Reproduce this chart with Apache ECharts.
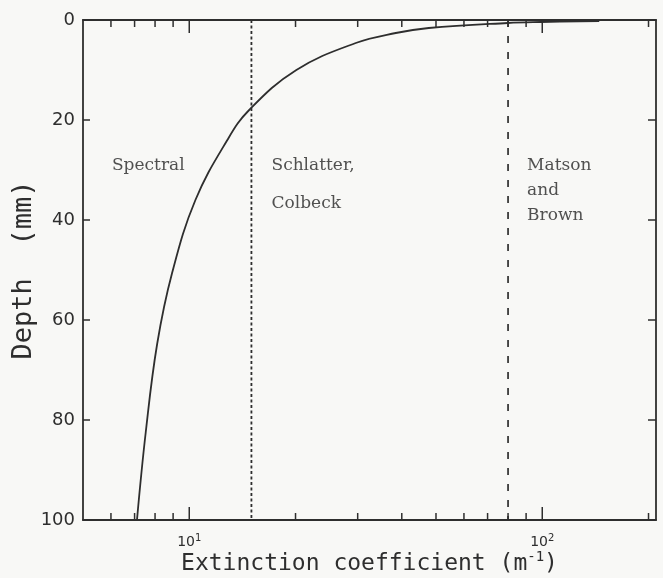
<!DOCTYPE html>
<html>
<head>
<meta charset="utf-8">
<script src="https://cdn.jsdelivr.net/npm/echarts@6/dist/echarts.min.js"></script>
<style>
html,body{margin:0;padding:0;background:#f8f8f6;}
#chart{width:663px;height:578px;}
</style>
</head>
<body>
<div id="chart"></div>
<script>
// ---- data ----
const curveExt   = [7.11, 7.53, 8.11, 8.94, 10.41, 12.82, 14.78, 20.11, 29.63, 38.46, 47.7, 79.85, 99.1, 145];
const curveDepth = [100, 82.4, 64.8, 50.6, 36.0, 24.0, 18.0, 10.0, 4.6, 2.6, 1.6, 0.6, 0.4, 0.2];
const boundaryDotted = 15;   // Spectral | Schlatter, Colbeck
const boundaryDashed = 80;   // Schlatter, Colbeck | Matson and Brown
const majorTicks = [10, 100];
const minorTicks = [6, 7, 8, 9, 20, 30, 40, 50, 60, 70, 80, 90, 200];
const annoText  = ['Spectral', 'Schlatter,', 'Colbeck', 'Matson', 'and', 'Brown'];
const annoExt   = [6.04, 17.1, 17.1, 90.6, 90.6, 90.6];
const annoDepth = [29.1, 29.1, 36.8, 29.1, 34.1, 39.1];

const ink = '#2e2e2e';
const xMin = 5, xMax = 210;

const chart = echarts.init(document.getElementById('chart'));
const tickData = majorTicks.map(v => [v, 1]).concat(minorTicks.map(v => [v, 0]));

const option = {
  backgroundColor: '#f8f8f6',
  animation: false,
  grid: {left: 83, right: 7, top: 20, bottom: 58, containLabel: false, outerBoundsMode: 'none'},
  xAxis: [{
    type: 'log', logBase: 10, min: xMin, max: xMax, position: 'bottom',
    axisLine: {onZero: false, lineStyle: {color: ink, width: 1.8}},
    axisTick: {show: false},
    splitLine: {show: false},
    axisLabel: {
      margin: 13, color: ink,
      showMinLabel: false, showMaxLabel: false,
      formatter: v => {
        const e = Math.round(Math.log10(v));
        if (Math.abs(Math.log10(v) - e) > 1e-6) return '';
        return '{b|10}{s|' + e + '}';
      },
      rich: {
        b: {fontFamily: 'DejaVu Sans', fontSize: 14, color: ink, lineHeight: 16, verticalAlign: 'bottom'},
        s: {fontFamily: 'DejaVu Sans', fontSize: 10, color: ink, lineHeight: 16, verticalAlign: 'top'}
      }
    },
    name: '{a|Extinction coefficient (m}{s|-1}{a|)}',
    nameLocation: 'middle', nameGap: 30, nameMoveOverlap: false,
    nameTextStyle: {
      rich: {
        a: {fontFamily: 'DejaVu Sans Mono', fontSize: 23, color: ink, lineHeight: 26, verticalAlign: 'bottom'},
        s: {fontFamily: 'DejaVu Sans Mono', fontSize: 14, color: ink, lineHeight: 26, verticalAlign: 'top'}
      }
    }
  }, {
    type: 'log', logBase: 10, min: xMin, max: xMax, position: 'top',
    axisLine: {onZero: false, lineStyle: {color: ink, width: 1.8}},
    axisTick: {show: false}, axisLabel: {show: false}, splitLine: {show: false}
  }],
  yAxis: [{
    type: 'value', min: 0, max: 100, interval: 20, inverse: true, position: 'left',
    axisLine: {show: true, onZero: false, lineStyle: {color: ink, width: 1.8}},
    axisTick: {show: true, inside: true, length: 7, lineStyle: {color: ink, width: 1.5}},
    splitLine: {show: false},
    axisLabel: {margin: 8, color: ink, fontFamily: 'DejaVu Sans', fontSize: 18},
    name: 'Depth  (mm)', nameLocation: 'middle', nameRotate: 90, nameGap: 46, nameMoveOverlap: false,
    nameTextStyle: {fontFamily: 'DejaVu Sans Mono', fontSize: 27, color: ink}
  }, {
    type: 'value', min: 0, max: 100, interval: 20, inverse: true, position: 'right',
    axisLine: {show: true, onZero: false, lineStyle: {color: ink, width: 1.8}},
    axisTick: {show: true, inside: true, length: 8, lineStyle: {color: ink, width: 1.5}},
    axisLabel: {show: false}, splitLine: {show: false}
  }],
  series: [{
    type: 'line', name: 'curve', xAxisIndex: 0, yAxisIndex: 0,
    data: curveExt.map((e, i) => [e, curveDepth[i]]),
    smooth: 0.4, showSymbol: false, symbol: 'none',
    lineStyle: {color: ink, width: 1.8}, clip: true
  }, {
    type: 'line', name: 'dotted', symbol: 'none',
    data: [[boundaryDotted, 0], [boundaryDotted, 100]],
    lineStyle: {color: ink, width: 1.8, type: [3, 2.5]}
  }, {
    type: 'line', name: 'dashed', symbol: 'none',
    data: [[boundaryDashed, 0], [boundaryDashed, 100]],
    lineStyle: {color: ink, width: 1.7, type: [7, 9]}
  }, {
    type: 'custom', name: 'ticks', clip: false,
    data: tickData,
    renderItem: (params, api) => {
      const v = api.value(0);
      const len = api.value(1) ? 13 : 7;
      const pb = api.coord([v, 100]);
      const pt = api.coord([v, 0]);
      const st = {stroke: ink, lineWidth: 1.5};
      return {type: 'group', children: [
        {type: 'line', shape: {x1: pb[0], y1: pb[1], x2: pb[0], y2: pb[1] - len}, style: st},
        {type: 'line', shape: {x1: pt[0], y1: pt[1], x2: pt[0], y2: pt[1] + len}, style: st}
      ]};
    }
  }, {
    type: 'scatter', name: 'annotations', symbolSize: 0,
    data: annoText.map((t, i) => ({name: t, value: [annoExt[i], annoDepth[i]]})),
    label: {
      show: true, position: [0, 0], align: 'left', verticalAlign: 'middle',
      formatter: p => p.name,
      fontFamily: 'DejaVu Serif', fontSize: 17, color: '#262626'
    },
    silent: true
  }]
};
chart.setOption(option);
</script>
</body>
</html>
